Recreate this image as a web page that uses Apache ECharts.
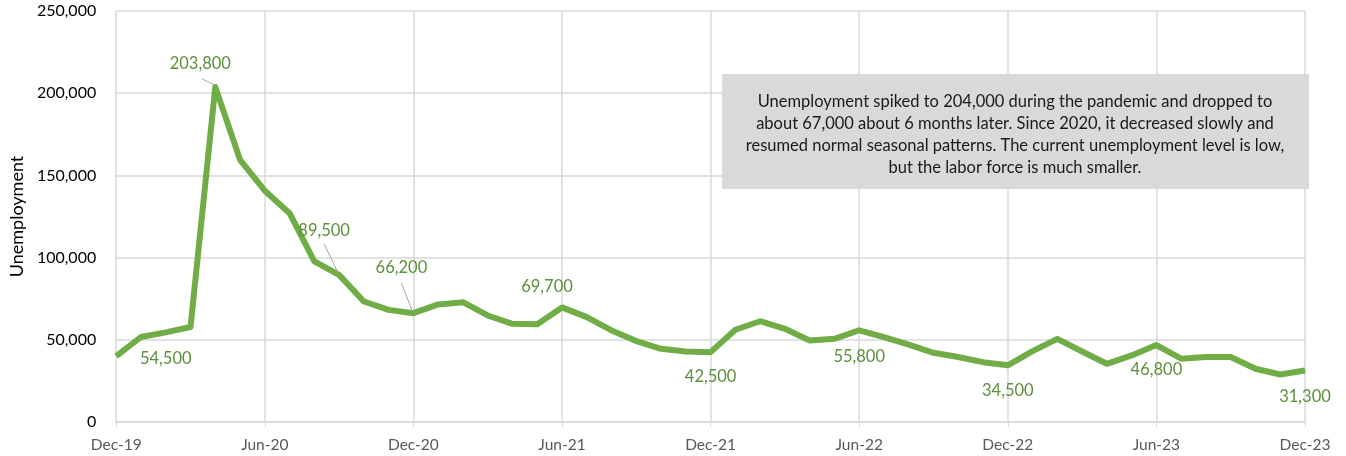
<!DOCTYPE html>
<html>
<head>
<meta charset="utf-8">
<script src="https://cdn.jsdelivr.net/npm/echarts@6/dist/echarts.min.js"></script>
<style>
html,body{margin:0;padding:0;background:#fff;}
#chart{width:1346px;height:456px;}
</style>
</head>
<body>
<div id="chart"></div>
<script>
const categories = ["Dec-19","Jan-20","Feb-20","Mar-20","Apr-20","May-20","Jun-20","Jul-20","Aug-20","Sep-20","Oct-20","Nov-20",
  "Dec-20","Jan-21","Feb-21","Mar-21","Apr-21","May-21","Jun-21","Jul-21","Aug-21","Sep-21","Oct-21","Nov-21",
  "Dec-21","Jan-22","Feb-22","Mar-22","Apr-22","May-22","Jun-22","Jul-22","Aug-22","Sep-22","Oct-22","Nov-22",
  "Dec-22","Jan-23","Feb-23","Mar-23","Apr-23","May-23","Jun-23","Jul-23","Aug-23","Sep-23","Oct-23","Nov-23","Dec-23"];
const unemployment = [40000,51700,54500,57800,203800,159500,140700,127000,97700,89500,73300,68200,
  66200,71500,72900,64800,59700,59400,69700,63800,55700,49200,44500,42900,
  42500,56100,61300,56700,49600,50600,55800,51600,47000,42100,39500,36400,
  34500,43100,50600,42900,35400,40500,46800,38500,39500,39500,32400,28900,31300];
const yTicks = [0,50000,100000,150000,200000,250000];
// labelled points: index -> [offsetX, offsetY]
const labelled = {2:[0,26],4:[-15,-23],9:[-15,-44],12:[-12,-45],18:[-15,-21],
  24:[0,25],30:[0,26],36:[0,25],42:[0,25],48:[0,26]};
// leader lines: index -> start offset relative to point
const leaders = [[4,-13,-8],[9,-15,-31],[12,-12,-30]];
const note = "Unemployment spiked to 204,000 during the pandemic and dropped to\nabout 67,000 about 6 months later. Since 2020, it decreased slowly and\nresumed normal seasonal patterns. The current unemployment level is low,\nbut the labor force is much smaller.";

const fmt = v => v.toLocaleString('en-US');
const seriesData = unemployment.map((v,i)=>{
  const l = labelled[i];
  if(!l) return {value:v};
  return {value:v,
    label:{show:true, position:'inside', offset:[l[0],l[1]], formatter:p=>fmt(p.value),
      color:'#5B8F3A', fontSize:16.5, fontFamily:'Lato'}
  };
});
const leaderData = leaders.map(d=>[d[0], unemployment[d[0]], d[1], d[2]]);

const chart = echarts.init(document.getElementById('chart'));
chart.setOption({
  animation:false,
  grid:{left:115,right:41,top:11,bottom:34},
  xAxis:{type:'category',data:categories,boundaryGap:false,
    axisLine:{lineStyle:{color:'#D9D9D9',width:1.5}},
    axisTick:{show:true,interval:5,length:5,lineStyle:{color:'#D9D9D9'}},
    axisLabel:{interval:5,color:'#595959',fontSize:15.5,fontFamily:'Lato',margin:15},
    splitLine:{show:true,interval:5,lineStyle:{color:'#D9D9D9',width:1.5}}},
  yAxis:{type:'value',min:0,max:250000,interval:50000,
    name:'Unemployment',nameLocation:'middle',nameGap:88,
    nameTextStyle:{color:'#000',fontSize:18,fontFamily:'Lato'},
    axisLine:{show:false},axisTick:{show:false},
    axisLabel:{color:'#000',fontSize:16,fontFamily:'Lato',margin:20,formatter:v=>fmt(v)},
    splitLine:{lineStyle:{color:'#D9D9D9',width:1.5}}},
  series:[
    {type:'line',data:seriesData,symbol:'circle',symbolSize:1,showSymbol:true,
      itemStyle:{color:'rgba(0,0,0,0)',borderWidth:0},
      lineStyle:{color:'#70AD47',width:6,join:'round'},
      z:3},
    {type:'custom',data:leaderData,z:4,silent:true,
      renderItem:(params,api)=>{
        const p = api.coord([api.value(0), api.value(1)]);
        const dx = api.value(2), dy = api.value(3);
        return {type:'line',shape:{x1:p[0]+dx,y1:p[1]+dy,x2:p[0]-1,y2:p[1]-2},
          style:{stroke:'#A6A6A6',lineWidth:1}};
      }}
  ],
  graphic:[{type:'group',left:722,top:74,z:100,children:[
    {type:'rect',z:100,shape:{x:0,y:0,width:587,height:115},style:{fill:'#D9D9D9'}},
    {type:'text',z:101,x:293,y:17,style:{text:note,fill:'#1a1a1a',font:'16.5px Lato',textAlign:'center',textVerticalAlign:'top',lineHeight:22}}
  ]}]
});
</script>
</body>
</html>
